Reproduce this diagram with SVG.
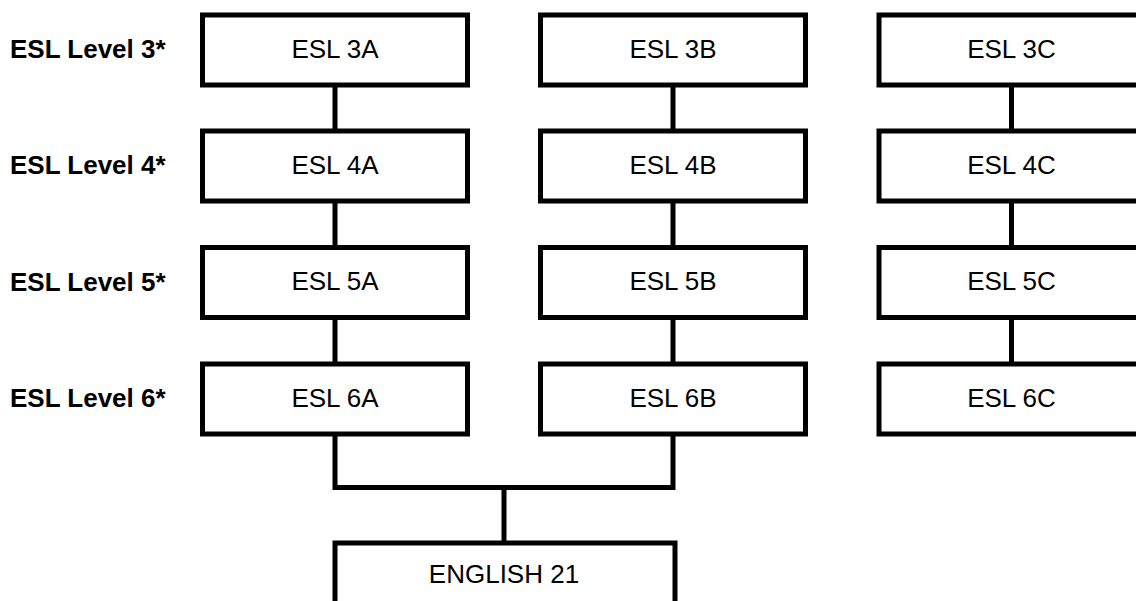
<svg xmlns="http://www.w3.org/2000/svg" width="1136" height="601" viewBox="0 0 1136 601">
<style>
.box{fill:#fff;stroke:#000;stroke-width:5}
.lbl{font-family:"Liberation Sans",Arial,sans-serif;font-size:26px;fill:#000;text-anchor:middle}
.lvl{font-family:"Liberation Sans",Arial,sans-serif;font-size:26px;font-weight:bold;fill:#000}
.con{fill:none;stroke:#000;stroke-width:5}
</style>
<rect width="1136" height="601" fill="#fff"/>
<g id="connectors">
<line class="con" x1="335" y1="85" x2="335" y2="131"/>
<line class="con" x1="335" y1="201" x2="335" y2="247.5"/>
<line class="con" x1="335" y1="317.5" x2="335" y2="364"/>
<line class="con" x1="673" y1="85" x2="673" y2="131"/>
<line class="con" x1="673" y1="201" x2="673" y2="247.5"/>
<line class="con" x1="673" y1="317.5" x2="673" y2="364"/>
<line class="con" x1="1011.5" y1="85" x2="1011.5" y2="131"/>
<line class="con" x1="1011.5" y1="201" x2="1011.5" y2="247.5"/>
<line class="con" x1="1011.5" y1="317.5" x2="1011.5" y2="364"/>
<polyline class="con" points="335,434 335,487.5 673,487.5 673,434"/>
<line class="con" x1="504" y1="487.5" x2="504" y2="543"/>
</g>
<g id="levels">
<text class="lvl" x="10" y="58">ESL Level 3*</text>
<text class="lvl" x="10" y="174.3">ESL Level 4*</text>
<text class="lvl" x="10" y="290.7">ESL Level 5*</text>
<text class="lvl" x="10" y="407">ESL Level 6*</text>
</g>
<g id="esl3a"><rect class="box" x="202.5" y="15" width="265" height="70"/><text class="lbl" x="335" y="57.5">ESL 3A</text></g>
<g id="esl3b"><rect class="box" x="540.5" y="15" width="265" height="70"/><text class="lbl" x="673" y="57.5">ESL 3B</text></g>
<g id="esl3c"><rect class="box" x="879" y="15" width="265" height="70"/><text class="lbl" x="1011.5" y="57.5">ESL 3C</text></g>
<g id="esl4a"><rect class="box" x="202.5" y="131" width="265" height="70"/><text class="lbl" x="335" y="173.8">ESL 4A</text></g>
<g id="esl4b"><rect class="box" x="540.5" y="131" width="265" height="70"/><text class="lbl" x="673" y="173.8">ESL 4B</text></g>
<g id="esl4c"><rect class="box" x="879" y="131" width="265" height="70"/><text class="lbl" x="1011.5" y="173.8">ESL 4C</text></g>
<g id="esl5a"><rect class="box" x="202.5" y="247.5" width="265" height="70"/><text class="lbl" x="335" y="290.2">ESL 5A</text></g>
<g id="esl5b"><rect class="box" x="540.5" y="247.5" width="265" height="70"/><text class="lbl" x="673" y="290.2">ESL 5B</text></g>
<g id="esl5c"><rect class="box" x="879" y="247.5" width="265" height="70"/><text class="lbl" x="1011.5" y="290.2">ESL 5C</text></g>
<g id="esl6a"><rect class="box" x="202.5" y="364" width="265" height="70"/><text class="lbl" x="335" y="406.5">ESL 6A</text></g>
<g id="esl6b"><rect class="box" x="540.5" y="364" width="265" height="70"/><text class="lbl" x="673" y="406.5">ESL 6B</text></g>
<g id="esl6c"><rect class="box" x="879" y="364" width="265" height="70"/><text class="lbl" x="1011.5" y="406.5">ESL 6C</text></g>
<g id="english21"><rect class="box" x="335" y="543" width="340" height="80"/><text class="lbl" x="504" y="583.3">ENGLISH 21</text></g>
</svg>
